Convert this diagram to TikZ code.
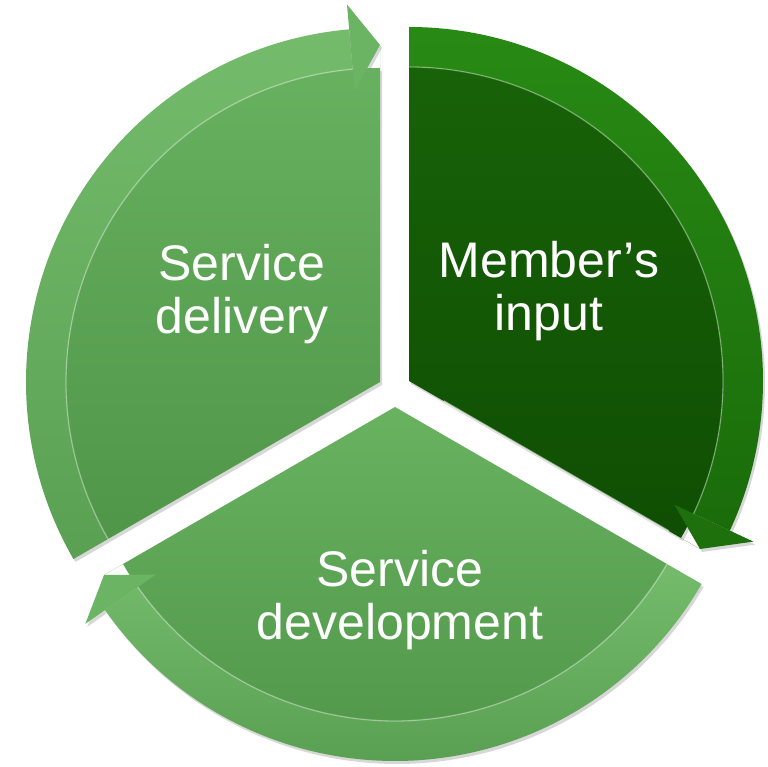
\documentclass[tikz,border=0pt]{standalone}
\usepackage{fontspec}
\setmainfont{Liberation Sans}
\begin{document}
\begin{tikzpicture}[x=1pt,y=1pt]
\definecolor{dkbodyT}{RGB}{24,98,8}
\definecolor{dkbodyB}{RGB}{15,78,3}
\definecolor{dkbandT}{RGB}{40,138,20}
\definecolor{dkbandB}{RGB}{26,108,10}
\definecolor{dkarrow}{RGB}{30,112,12}
\definecolor{ltbodyT}{RGB}{104,178,96}
\definecolor{ltbodyB}{RGB}{80,150,73}
\definecolor{ltbandT}{RGB}{116,188,108}
\definecolor{ltbandB}{RGB}{90,160,83}
\definecolor{ltarrow}{RGB}{106,180,99}
\definecolor{shadowgray}{RGB}{215,215,215}
\tikzset{
  labeltext/.style={text=white, align=center, inner sep=0pt,
    font=\fontsize{50}{53}\selectfont},
  shadowfill/.style={fill=shadowgray},
  edgeglow/.style={draw=white, draw opacity=0.35, line width=1.3pt},
}
\useasboundingbox (0,0) rectangle (768,767);
% paths (relative to each vertex)
\def\mbody{(0,0) -- (90:314) arc[start angle=90, end angle=-30, radius=314] -- (-30:336) -- cycle}
\def\mband{(90:354) arc[start angle=90, end angle=-25, radius=354] -- (-25:314) arc[start angle=-25, end angle=90, radius=314] -- cycle}
\def\marrow{(-25:380) -- (-30:336) -- (-25:293) -- cycle}
\def\lbody{(0,0) -- (210:314) arc[start angle=210, end angle=90, radius=314] -- (90:337) -- cycle}
\def\lband{(210:354) arc[start angle=210, end angle=95, radius=354] -- (95:314) arc[start angle=95, end angle=210, radius=314] -- cycle}
\def\larrow{(95:379) -- (90:337) -- (95:292) -- cycle}
\def\bbody{(0,0) -- (-30:314) arc[start angle=-30, end angle=-150, radius=314] -- (-150:336) -- cycle}
\def\bband{(-30:354) arc[start angle=-30, end angle=-145, radius=354] -- (-145:314) arc[start angle=-145, end angle=-30, radius=314] -- cycle}
\def\barrow{(-145:378) -- (-150:336) -- (-145:292) -- cycle}
% shadows
\begin{scope}[shift={(411,383)}]
  \fill[shadowfill] \mbody; \fill[shadowfill] \mband; \fill[shadowfill] \marrow;
\end{scope}
\begin{scope}[shift={(382,382)}]
  \fill[shadowfill] \lbody; \fill[shadowfill] \lband; \fill[shadowfill] \larrow;
\end{scope}
\begin{scope}[shift={(397,357)}]
  \fill[shadowfill] \bbody; \fill[shadowfill] \bband; \fill[shadowfill] \barrow;
\end{scope}
% Member's input
\begin{scope}[shift={(409,386)}]
  \shade[top color=dkbodyT, bottom color=dkbodyB] \mbody;
  \shade[top color=dkbandT, bottom color=dkbandB] \mband;
  \fill[dkarrow] \marrow;
  \draw[edgeglow] (90:314) arc[start angle=90, end angle=-25, radius=314];
  \draw[draw=white, draw opacity=0.55, line width=1.6pt] (-30:40) -- (-30:300);
\end{scope}
% Service delivery
\begin{scope}[shift={(380,385)}]
  \shade[top color=ltbodyT, bottom color=ltbodyB] \lbody;
  \shade[top color=ltbandT, bottom color=ltbandB] \lband;
  \fill[ltarrow] \larrow;
  \draw[edgeglow] (210:314) arc[start angle=210, end angle=95, radius=314];
\end{scope}
% Service development
\begin{scope}[shift={(395,360)}]
  \shade[top color=ltbodyT, bottom color=ltbodyB] \bbody;
  \shade[top color=ltbandT, bottom color=ltbandB] \bband;
  \fill[ltarrow] \barrow;
  \draw[edgeglow] (-30:314) arc[start angle=-30, end angle=-145, radius=314];
\end{scope}
% labels
\node[labeltext] (member) at (549,476) {Member’s\\input};
\node[labeltext] (delivery) at (242,473) {Service\\delivery};
\node[labeltext] (development) at (400,167) {Service\\development};
\end{tikzpicture}
\end{document}
